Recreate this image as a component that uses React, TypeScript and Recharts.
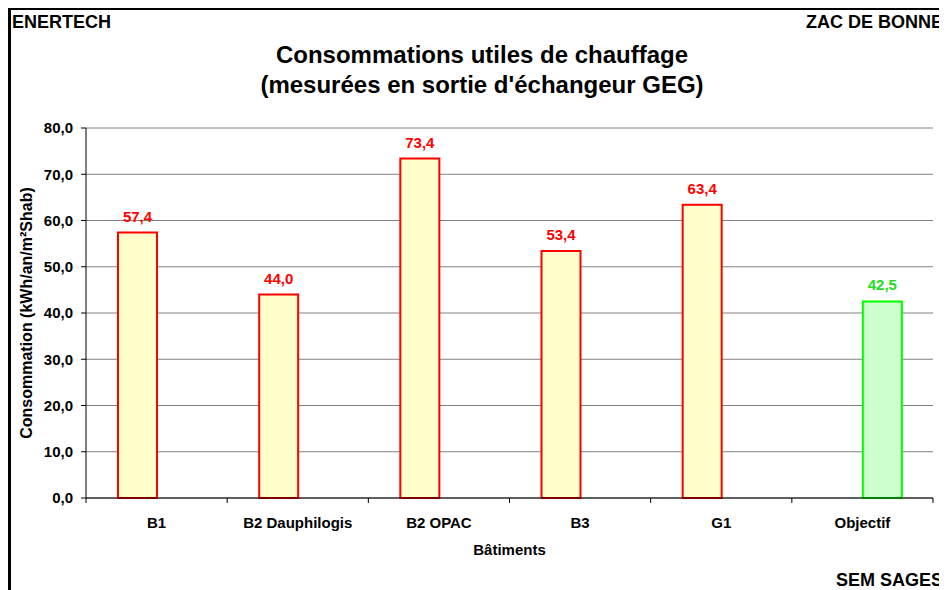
import React from 'react'
import {
  BarChart, Bar, XAxis, YAxis, CartesianGrid, LabelList,
} from 'recharts'

const categories = ['B1', 'B2 Dauphilogis', 'B2 OPAC', 'B3', 'G1', 'Objectif']
const mesure = [57.4, 44.0, 73.4, 53.4, 63.4, null]
const objectif = [null, null, null, null, null, 42.5]
const yTicks = [0, 10, 20, 30, 40, 50, 60, 70, 80]

const W = 939
const H = 582
const M = { top: 120, right: 14, left: 0, bottom: 0 }
const Y_W = 78
const X_H = 92
const PLOT_BOTTOM = H - M.bottom - X_H
const BAND = (W - M.left - Y_W - M.right) / categories.length

const FONT = '"Liberation Sans", Arial, Helvetica, sans-serif'

const data = categories.map((c, i) => ({
  name: c,
  mesure: mesure[i],
  objectif: objectif[i],
}))

const fmt = (v: any) => (v == null ? '' : Number(v).toFixed(1).replace('.', ','))

// ticks sit on the category boundaries, labels in the middle
function XTick({ x, payload, index }: any) {
  const left = x - BAND / 2
  return (
    <g>
      <line x1={left} x2={left} y1={PLOT_BOTTOM} y2={PLOT_BOTTOM + 5} stroke="#000" />
      {index === categories.length - 1 && (
        <line x1={x + BAND / 2} x2={x + BAND / 2} y1={PLOT_BOTTOM} y2={PLOT_BOTTOM + 5} stroke="#000" />
      )}
      <text x={x} y={PLOT_BOTTOM + 30} textAnchor="middle" fontSize={15} fontWeight={700} fill="#000" fontFamily={FONT}>
        {payload.value}
      </text>
    </g>
  )
}

export default function App() {
  return (
    <div style={{ position: 'relative', width: W, height: H, fontFamily: FONT, background: '#fff' }}>
      <div style={{
        position: 'absolute', left: 0, top: 0, width: W, height: H,
        borderLeft: '3px solid #000', borderTop: '2px solid #000', boxSizing: 'border-box',
      }} />

      <BarChart
        width={W}
        height={H}
        data={data}
        margin={M}
        barGap={0}
        barSize={39}
        style={{ position: 'absolute', left: 0, top: 0 }}
      >
        <CartesianGrid vertical={false} stroke="#808080" />
        <XAxis
          dataKey="name"
          height={X_H}
          axisLine={{ stroke: '#000' }}
          tickLine={false}
          tick={<XTick />}
          interval={0}
          label={{
            value: 'Bâtiments', position: 'insideBottom', offset: 35,
            style: { fontSize: 15, fontWeight: 700, fill: '#000', fontFamily: FONT },
          }}
        />
        <YAxis
          width={Y_W}
          domain={[0, 80]}
          ticks={yTicks}
          interval={0}
          tickFormatter={fmt}
          axisLine={{ stroke: '#000' }}
          tickLine={{ stroke: '#000' }}
          tickSize={5}
          tickMargin={8}
          tick={{ fontSize: 15, fontWeight: 700, fill: '#000', fontFamily: FONT }}
          label={{
            value: 'Consommation (kWh/an/m²Shab)', angle: -90, position: 'insideLeft', offset: 18,
            style: { fontSize: 16, fontWeight: 700, fill: '#000', fontFamily: FONT, textAnchor: 'middle' },
          }}
        />
        <YAxis
          yAxisId="r"
          orientation="right"
          width={0}
          domain={[0, 80]}
          tick={false}
          tickLine={false}
          axisLine={{ stroke: '#a0a0a0' }}
        />
        <Bar dataKey="mesure" fill="#FFFFCC" stroke="#FF0000" strokeWidth={2} isAnimationActive={false}>
          <LabelList
            dataKey="mesure"
            position="top"
            offset={11}
            formatter={fmt}
            style={{ fontSize: 15, fontWeight: 700, fill: '#FF0000', fontFamily: FONT }}
          />
        </Bar>
        <Bar dataKey="objectif" fill="#CCFFCC" stroke="#00FF00" strokeWidth={2} isAnimationActive={false}>
          <LabelList
            dataKey="objectif"
            position="top"
            offset={11}
            formatter={fmt}
            style={{ fontSize: 15, fontWeight: 700, fill: '#22DD22', fontFamily: FONT }}
          />
        </Bar>
      </BarChart>

      <svg width={W} height={H} style={{ position: 'absolute', left: 0, top: 0, pointerEvents: 'none' }}>
        <g fontFamily={FONT} fontWeight={700} fill="#000">
          <text x={4} y={20} fontSize={18}>ENERTECH</text>
          <text x={935} y={20} fontSize={18} textAnchor="end">ZAC DE BONNE</text>
          <text x={474} y={55} fontSize={24} textAnchor="middle">Consommations utiles de chauffage</text>
          <text x={474} y={85} fontSize={24} textAnchor="middle">(mesurées en sortie d'échangeur GEG)</text>
          <text x={935} y={578} fontSize={18} textAnchor="end">SEM SAGES</text>
        </g>
      </svg>
    </div>
  )
}
